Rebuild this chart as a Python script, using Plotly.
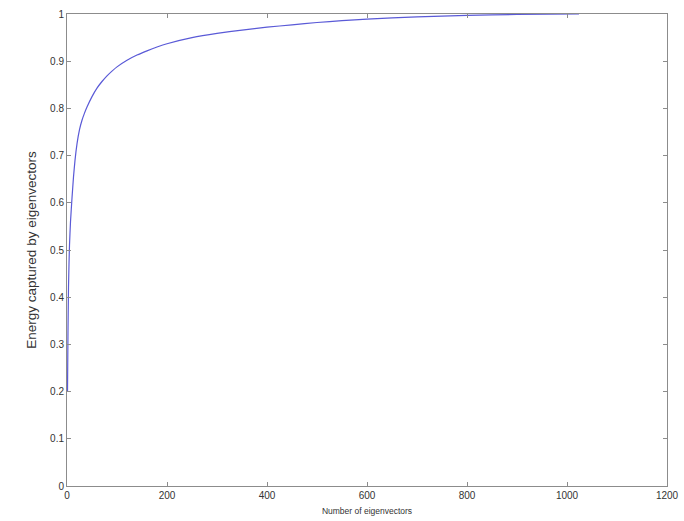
import plotly.graph_objects as go

# Cumulative energy captured by the leading eigenvectors
num_eigenvectors = [1, 2, 3, 4, 5, 7, 10, 13, 16, 20, 25, 30, 35, 40, 50, 60, 70, 80,
                    90, 100, 120, 140, 160, 180, 200, 250, 300, 350, 400, 450, 500,
                    550, 600, 700, 800, 900, 1024]
energy_captured = [0.20, 0.33, 0.42, 0.47, 0.51, 0.56, 0.61, 0.655, 0.69, 0.725, 0.755,
                   0.775, 0.79, 0.803, 0.825, 0.843, 0.857, 0.869, 0.879, 0.888, 0.902,
                   0.913, 0.922, 0.930, 0.937, 0.950, 0.959, 0.966, 0.972, 0.977, 0.982,
                   0.986, 0.989, 0.994, 0.997, 0.999, 1.0]

x_ticks = [0, 200, 400, 600, 800, 1000, 1200]
y_ticks = [0, 0.1, 0.2, 0.3, 0.4, 0.5, 0.6, 0.7, 0.8, 0.9, 1]
y_tick_text = ["0", "0.1", "0.2", "0.3", "0.4", "0.5", "0.6", "0.7", "0.8", "0.9", "1"]

FONT = "Liberation Sans, Arial, sans-serif"

fig = go.Figure(
    go.Scatter(
        x=num_eigenvectors,
        y=energy_captured,
        mode="lines",
        line=dict(color="rgb(90,90,215)", width=1.2, shape="spline", smoothing=0.4),
        hoverinfo="x+y",
    )
)

axis_style = dict(
    showgrid=False,
    zeroline=False,
    showline=True,
    mirror="ticks",
    linecolor="#8c8c8c",
    linewidth=1,
    ticks="inside",
    ticklen=4,
    tickcolor="#8c8c8c",
    automargin=False,
    tickfont=dict(family=FONT, size=10, color="#333333"),
)

fig.update_layout(
    width=684,
    height=521,
    margin=dict(l=67, r=17, t=14, b=35),
    paper_bgcolor="white",
    plot_bgcolor="white",
    showlegend=False,
    xaxis=dict(
        range=[0, 1200],
        tickvals=x_ticks,
        title=dict(text="Number of eigenvectors", standoff=8,
                   font=dict(family=FONT, size=8.5, color="#333333")),
        **axis_style,
    ),
    yaxis=dict(
        range=[0, 1],
        tickvals=y_ticks,
        ticktext=y_tick_text,
        title=dict(text="Energy captured by eigenvectors", standoff=10,
                   font=dict(family=FONT, size=13.5, color="#333333")),
        **axis_style,
    ),
)

fig.write_html("out.html")
